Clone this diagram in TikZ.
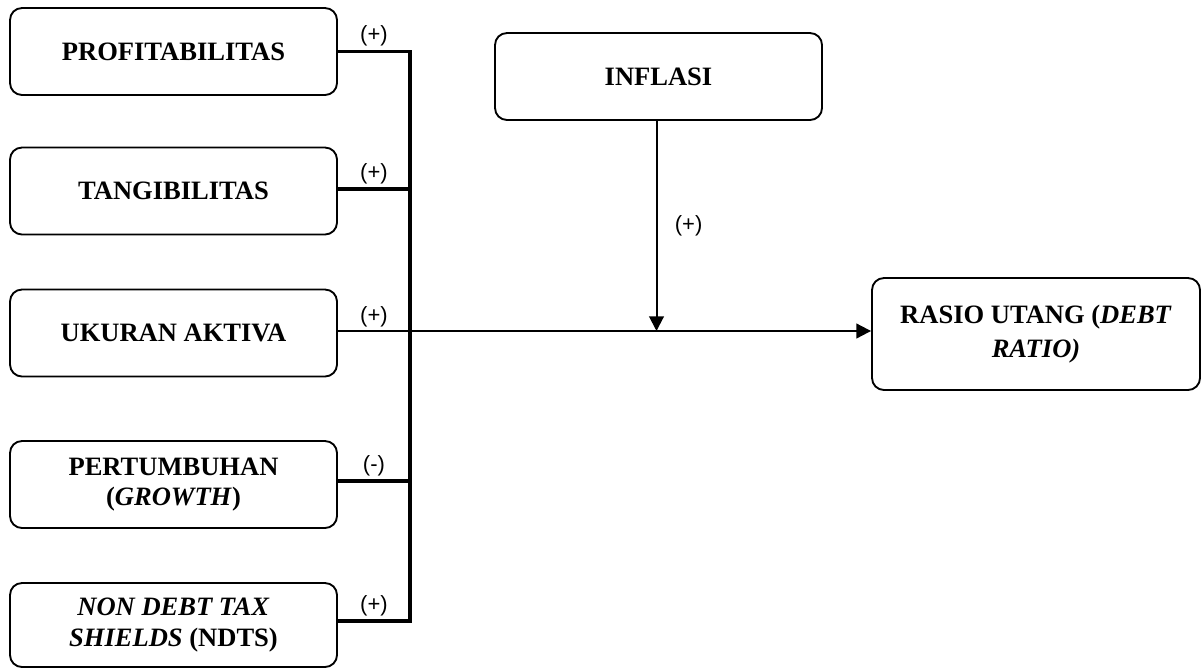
\documentclass[tikz,border=0pt]{standalone}
\usepackage{fontspec}
\setmainfont{Liberation Serif}
\newfontfamily\signfont{Liberation Sans}
\usepackage{tikz}
\usetikzlibrary{shapes,arrows.meta}
\tikzstyle{block} = [rectangle, draw, line width=1.4pt, align=center, rounded corners=9pt, minimum width=245.25pt, minimum height=65.25pt, font=\fontsize{19.9}{23}\selectfont\bfseries]
\tikzstyle{busline} = [draw, line width=2.6pt]
\tikzstyle{line} = [draw, line width=1.5pt, -{Triangle[length=11pt, width=11pt]}]
\tikzstyle{sign} = [font=\signfont\fontsize{16.5}{19}\selectfont, inner sep=1pt]

\begin{document}
\begin{tikzpicture}[x=0.75pt, y=-0.75pt]
\useasboundingbox (0, 0) rectangle (1202, 668);

% independent variables
\node [block] at (173.5, 51.5) (profit) {PROFITABILITAS};
\node [block] at (173.5, 191) (tangib) {TANGIBILITAS};
\node [block] at (173.5, 333) (ukuran) {UKURAN AKTIVA};
\node [block] at (173.5, 484.5) (growth) {PERTUMBUHAN\\(\textit{GROWTH})};
\node [block, minimum height=63pt] at (173.5, 625) (ndts) {\textit{NON DEBT TAX}\\\textit{SHIELDS} (NDTS)};

% moderating and dependent
\node [block] at (658.5, 76.5) (inflasi) {INFLASI};
\node [block, minimum width=246pt, minimum height=84pt, font=\fontsize{19.9}{25.5}\selectfont\bfseries] at (1036, 334) (rasio) {RASIO UTANG (\textit{DEBT}\\\textit{RATIO)}};

\coordinate (bus) at (410, 0);

% bus
\path [busline] (profit.east) -- node [sign, above=1.5pt] {(+)} (profit.east -| bus) -- ([yshift=3pt]ndts.east -| bus) -- node [sign, above=1.5pt] {(+)} ([yshift=3pt]ndts.east);
\path [busline] ([yshift=1.5pt]tangib.east) -- node [sign, above=1.5pt] {(+)} ([yshift=1.5pt]tangib.east -| bus);
\path [busline] ([yshift=2.5pt]growth.east) -- node [sign, above=1.5pt] {(-)} ([yshift=2.5pt]growth.east -| bus);

% main path
\path [line] ([yshift=1.5pt]ukuran.east) -- node [sign, above=1.5pt] {(+)} ([yshift=1.5pt]ukuran.east -| bus) -- ([yshift=1.5pt]ukuran.east -| rasio.west);
\path [line] ([xshift=-1.5pt]inflasi.south) -- node [sign, right=12pt] {(+)} ([xshift=-1.5pt, yshift=1.5pt]inflasi.south |- ukuran.east);

\end{tikzpicture}
\end{document}
